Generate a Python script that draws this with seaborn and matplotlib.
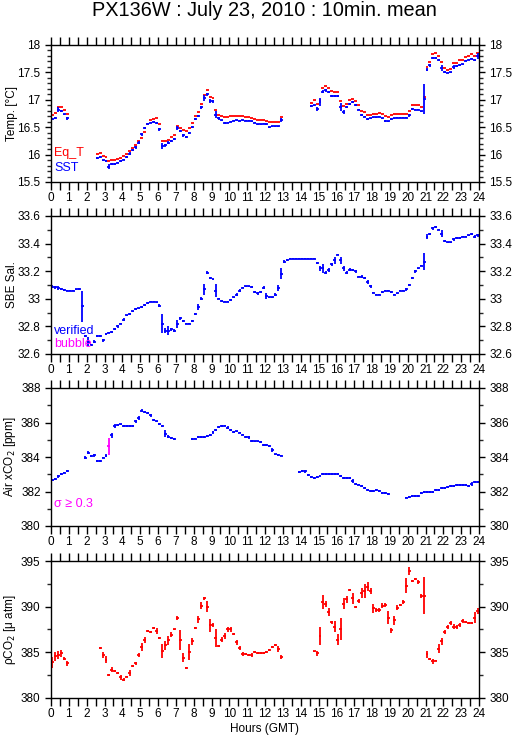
import numpy as np
import matplotlib
matplotlib.use('Agg')
import matplotlib.pyplot as plt
from matplotlib.ticker import MultipleLocator
import seaborn as sns

nan = np.nan

# 10-minute bins over one day (bin centres, hours GMT)
hours = (np.arange(144) + 0.5) / 6

# ---- panel 1 : temperatures (one row per hour, six 10-min bins) ----
sst = [
    16.65, 16.67, 16.82, 16.80, 16.74, 16.66,
    nan, nan, nan, nan, nan, nan,
    nan, nan, nan, 15.94, 15.95, 15.90,
    15.88, 15.78, 15.83, 15.83, 15.85, 15.88,
    15.91, 15.96, 16.02, 16.08, 16.13, 16.22,
    16.37, 16.48, 16.56, 16.58, 16.60, 16.57,
    16.46, 16.16, 16.17, 16.22, 16.25, 16.29,
    16.48, 16.43, 16.35, 16.32, 16.40, 16.50,
    16.65, 16.70, 16.86, 17.03, 17.10, 16.98,
    16.97, 16.73, 16.66, 16.63, 16.58, 16.58,
    16.60, 16.62, 16.63, 16.62, 16.63, 16.62,
    16.62, 16.61, 16.58, 16.55, 16.55, 16.56,
    16.56, 16.50, 16.52, 16.52, 16.52, 16.63,
    nan, nan, nan, nan, nan, nan,
    nan, nan, nan, 16.89, 16.90, 16.83,
    16.96, 17.15, 17.17, 17.14, 17.07, 17.07,
    17.07, 16.87, 16.78, 16.87, 16.92, 16.96,
    16.91, 16.82, 16.73, 16.69, 16.65, 16.66,
    16.68, 16.68, 16.69, 16.66, 16.62, 16.61,
    16.65, 16.66, 16.67, 16.67, 16.67, 16.67,
    16.72, 16.83, 16.82, 16.82, 16.79, 17.02,
    17.55, 17.63, 17.77, 17.77, 17.73, 17.58,
    17.50, 17.49, 17.50, 17.60, 17.61, 17.64,
    17.65, 17.71, 17.73, 17.75, 17.72, 17.80,
]
sst_sd = [
    0.02, 0.02, 0.04, 0.02, 0.01, 0.02,
    nan, nan, nan, nan, nan, nan,
    nan, nan, nan, 0.02, 0.02, 0.01,
    0.02, 0.04, 0.02, 0.02, 0.01, 0.02,
    0.01, 0.02, 0.02, 0.02, 0.02, 0.02,
    0.03, 0.02, 0.02, 0.01, 0.02, 0.02,
    0.03, 0.05, 0.03, 0.02, 0.02, 0.02,
    0.04, 0.02, 0.02, 0.02, 0.02, 0.02,
    0.02, 0.02, 0.02, 0.05, 0.03, 0.03,
    0.02, 0.07, 0.02, 0.01, 0.02, 0.01,
    0.01, 0.01, 0.01, 0.01, 0.01, 0.01,
    0.01, 0.01, 0.01, 0.01, 0.01, 0.01,
    0.02, 0.01, 0.01, 0.01, 0.01, 0.03,
    nan, nan, nan, nan, nan, nan,
    nan, nan, nan, 0.02, 0.01, 0.03,
    0.08, 0.02, 0.02, 0.02, 0.02, 0.02,
    0.02, 0.07, 0.03, 0.02, 0.02, 0.02,
    0.02, 0.01, 0.02, 0.01, 0.01, 0.01,
    0.01, 0.01, 0.01, 0.01, 0.02, 0.01,
    0.01, 0.01, 0.01, 0.01, 0.01, 0.01,
    0.03, 0.02, 0.01, 0.01, 0.01, 0.27,
    0.03, 0.03, 0.02, 0.02, 0.02, 0.06,
    0.02, 0.01, 0.01, 0.03, 0.02, 0.02,
    0.01, 0.01, 0.01, 0.01, 0.01, 0.05,
]
eq_t = [
    16.73, 16.76, 16.86, 16.86, 16.82, 16.74,
    nan, nan, nan, nan, nan, nan,
    nan, nan, nan, 16.01, 16.03, 15.97,
    15.96, 15.88, 15.90, 15.91, 15.92, 15.94,
    15.97, 16.02, 16.06, 16.12, 16.18, 16.24,
    16.31, 16.42, 16.55, 16.64, 16.65, 16.66,
    16.56, 16.24, 16.24, 16.27, 16.32, 16.35,
    16.53, 16.48, 16.44, 16.43, 16.48, 16.57,
    16.70, 16.77, 16.92, 17.08, 17.18, 17.06,
    17.04, 16.82, 16.72, 16.70, 16.68, 16.68,
    16.70, 16.70, 16.70, 16.70, 16.70, 16.69,
    16.68, 16.67, 16.65, 16.63, 16.64, 16.64,
    16.62, 16.60, 16.60, 16.60, 16.60, 16.69,
    nan, nan, nan, nan, nan, nan,
    nan, nan, nan, 16.95, 17.00, 16.93,
    17.00, 17.22, 17.25, 17.22, 17.16, 17.15,
    17.15, 16.98, 16.88, 16.93, 17.00, 17.02,
    16.97, 16.90, 16.80, 16.77, 16.73, 16.73,
    16.75, 16.75, 16.76, 16.74, 16.71, 16.68,
    16.72, 16.75, 16.75, 16.75, 16.75, 16.75,
    16.80, 16.90, 16.90, 16.90, 16.87, 17.05,
    17.60, 17.69, 17.84, 17.85, 17.80, 17.69,
    17.58, 17.55, 17.57, 17.67, 17.67, 17.73,
    17.73, 17.78, 17.80, 17.84, 17.80, 17.86,
]

# ---- panel 2 : SBE salinity ----
sal = [
    33.088, 33.083, 33.076, 33.070, 33.065, 33.060,
    33.058, 33.060, 33.068, 33.072, 32.945, 32.730,
    32.690, 32.665, 32.690, 32.730, 32.730, 32.700,
    32.745, 32.755, 32.760, 32.780, 32.800, 32.820,
    32.850, 32.880, 32.890, 32.910, 32.925, 32.930,
    32.940, 32.955, 32.970, 32.980, 32.980, 32.975,
    32.950, 32.820, 32.770, 32.770, 32.780, 32.770,
    32.820, 32.860, 32.840, 32.820, 32.820, 32.840,
    32.890, 32.940, 33.000, 33.070, 33.190, 33.150,
    33.140, 33.060, 33.000, 32.985, 32.980, 32.980,
    32.990, 33.010, 33.030, 33.060, 33.080, 33.090,
    33.090, 33.085, 33.050, 33.040, 33.050, 33.080,
    33.020, 33.010, 33.010, 33.030, 33.080, 33.180,
    33.270, 33.280, 33.290, 33.290, 33.290, 33.290,
    33.290, 33.290, 33.290, 33.290, 33.290, 33.260,
    33.220, 33.220, 33.190, 33.210, 33.250, 33.280,
    33.320, 33.280, 33.220, 33.190, 33.210, 33.210,
    33.200, 33.160, 33.160, 33.150, 33.120, 33.090,
    33.045, 33.030, 33.030, 33.050, 33.060, 33.060,
    33.050, 33.030, 33.040, 33.060, 33.060, 33.070,
    33.100, 33.150, 33.200, 33.220, 33.240, 33.270,
    33.450, 33.470, 33.510, 33.520, 33.500, 33.470,
    33.420, 33.410, 33.410, 33.430, 33.440, 33.440,
    33.450, 33.450, 33.460, 33.470, 33.450, 33.460,
]
sal_sd = [
    0.010, 0.010, 0.015, 0.005, 0.005, 0.005,
    0.005, 0.005, 0.005, 0.005, 0.110, 0.005,
    0.030, 0.005, 0.010, 0.005, 0.005, 0.010,
    0.010, 0.005, 0.005, 0.005, 0.010, 0.005,
    0.010, 0.005, 0.005, 0.005, 0.005, 0.005,
    0.005, 0.005, 0.005, 0.005, 0.005, 0.005,
    0.010, 0.070, 0.020, 0.030, 0.010, 0.010,
    0.030, 0.010, 0.010, 0.005, 0.005, 0.010,
    0.010, 0.020, 0.010, 0.040, 0.010, 0.010,
    0.005, 0.050, 0.005, 0.005, 0.005, 0.005,
    0.005, 0.005, 0.010, 0.010, 0.005, 0.005,
    0.005, 0.005, 0.005, 0.010, 0.005, 0.010,
    0.020, 0.005, 0.005, 0.010, 0.020, 0.040,
    0.010, 0.005, 0.005, 0.005, 0.005, 0.005,
    0.005, 0.005, 0.005, 0.005, 0.005, 0.010,
    0.020, 0.030, 0.010, 0.015, 0.010, 0.025,
    0.005, 0.025, 0.015, 0.010, 0.010, 0.005,
    0.010, 0.005, 0.010, 0.010, 0.015, 0.010,
    0.005, 0.005, 0.005, 0.005, 0.005, 0.005,
    0.005, 0.005, 0.005, 0.005, 0.005, 0.010,
    0.010, 0.010, 0.010, 0.005, 0.005, 0.060,
    0.020, 0.010, 0.010, 0.005, 0.005, 0.025,
    0.005, 0.005, 0.005, 0.010, 0.005, 0.005,
    0.005, 0.005, 0.005, 0.005, 0.010, 0.010,
]

# ---- panel 3 : air xCO2 ----
xco2 = [
    382.65, 382.72, 382.88, 383.00, 383.10, 383.20,
    nan, nan, nan, nan, nan, 383.97,
    384.24, 384.07, 384.10, 383.76, 383.76, 383.97,
    384.07, 384.63, 385.27, 385.79, 385.85, 385.89,
    385.81, 385.81, 385.81, 385.81, 386.06, 386.26,
    386.68, 386.59, 386.57, 386.41, 386.16, 386.06,
    385.90, 385.80, 385.36, 385.17, 385.11, 385.03,
    nan, nan, nan, nan, nan, 385.03,
    385.07, 385.15, 385.15, 385.15, 385.20, 385.28,
    385.44, 385.57, 385.73, 385.80, 385.82, 385.70,
    385.55, 385.45, 385.48, 385.42, 385.30, 385.18,
    385.15, 384.92, 384.90, 384.90, 384.88, 384.70,
    384.68, 384.65, 384.42, 384.15, 384.12, 384.08,
    nan, nan, nan, nan, nan, 383.15,
    383.17, 383.17, 382.95, 382.85, 382.80, 382.85,
    382.92, 383.00, 383.00, 383.00, 383.00, 383.00,
    383.00, 382.90, 382.80, 382.77, 382.77, 382.60,
    382.45, 382.40, 382.32, 382.22, 382.10, 382.02,
    382.03, 382.07, 382.03, 381.92, 381.90, 381.87,
    nan, nan, nan, nan, nan, 381.65,
    381.70, 381.75, 381.75, 381.75, 381.90, 381.97,
    381.98, 381.98, 381.98, 382.07, 382.10, 382.20,
    382.22, 382.28, 382.30, 382.33, 382.37, 382.37,
    382.37, 382.37, 382.30, 382.45, 382.55, 382.55,
]
xco2_sd = [
    0.05, 0.05, 0.08, 0.05, 0.05, 0.05,
    nan, nan, nan, nan, nan, 0.10,
    0.08, 0.05, 0.10, 0.05, 0.05, 0.05,
    0.08, 0.50, 0.15, 0.10, 0.08, 0.05,
    0.05, 0.05, 0.05, 0.05, 0.08, 0.12,
    0.08, 0.05, 0.05, 0.08, 0.05, 0.05,
    0.05, 0.05, 0.20, 0.08, 0.05, 0.05,
    nan, nan, nan, nan, nan, 0.05,
    0.05, 0.05, 0.05, 0.05, 0.05, 0.05,
    0.08, 0.08, 0.05, 0.05, 0.05, 0.08,
    0.05, 0.05, 0.05, 0.05, 0.05, 0.05,
    0.08, 0.05, 0.05, 0.05, 0.05, 0.05,
    0.05, 0.05, 0.12, 0.05, 0.05, 0.05,
    nan, nan, nan, nan, nan, 0.05,
    0.05, 0.10, 0.05, 0.05, 0.05, 0.05,
    0.05, 0.05, 0.05, 0.05, 0.05, 0.05,
    0.05, 0.05, 0.05, 0.05, 0.05, 0.10,
    0.05, 0.05, 0.05, 0.05, 0.05, 0.05,
    0.05, 0.05, 0.05, 0.05, 0.05, 0.05,
    nan, nan, nan, nan, nan, 0.05,
    0.05, 0.05, 0.05, 0.05, 0.05, 0.05,
    0.05, 0.05, 0.05, 0.05, 0.05, 0.05,
    0.05, 0.05, 0.05, 0.05, 0.05, 0.05,
    0.05, 0.05, 0.05, 0.12, 0.05, 0.05,
]

# ---- panel 4 : seawater pCO2 ----
pco2 = [
    383.90, 384.55, 384.70, 384.90, 384.30, 383.80,
    nan, nan, nan, nan, nan, nan,
    nan, nan, nan, nan, 385.45, 384.70,
    384.20, 382.55, 383.10, 383.00, 382.70, 382.25,
    382.00, 382.35, 382.75, 383.50, 383.80, 384.70,
    385.60, 386.35, 387.35, 387.25, 387.70, 387.35,
    386.60, 385.15, 385.75, 386.30, 386.95, 387.50,
    388.75, 386.35, 384.40, 383.30, 385.05, 386.20,
    387.70, 388.60, 390.10, 390.90, 390.00, 387.95,
    388.00, 386.60, 385.65, 386.40, 386.80, 387.50,
    387.50, 387.00, 386.10, 385.45, 384.80, 384.85,
    384.75, 384.70, 385.00, 384.95, 384.90, 384.90,
    385.00, 385.30, 385.55, 385.80, 385.35, 384.50,
    nan, nan, nan, nan, nan, nan,
    nan, nan, nan, nan, 385.10, 384.90,
    386.80, 390.50, 390.30, 389.40, 388.30, 387.80,
    386.40, 387.60, 390.30, 390.80, 391.80, 390.90,
    390.00, 390.60, 391.50, 391.70, 392.20, 391.70,
    389.80, 389.60, 389.60, 390.10, 390.20, 388.80,
    387.40, 388.50, 389.90, 390.20, 390.50, 392.30,
    393.90, 392.80, 393.00, 392.70, 391.20, 391.20,
    384.80, 384.30, 384.00, 384.10, 385.40, 386.20,
    387.20, 387.80, 388.20, 387.80, 387.80, 388.00,
    388.40, 388.30, 388.20, 388.20, 388.80, 389.50,
]
pco2_sd = [
    0.60, 0.50, 0.40, 0.40, 0.15, 0.30,
    nan, nan, nan, nan, nan, nan,
    nan, nan, nan, nan, 0.10, 0.30,
    0.40, 0.10, 0.30, 0.10, 0.10, 0.25,
    0.15, 0.10, 0.30, 0.15, 0.15, 0.20,
    0.40, 0.30, 0.10, 0.10, 0.10, 0.30,
    0.10, 0.80, 0.50, 0.50, 0.30, 0.10,
    0.25, 1.10, 0.50, 0.10, 0.90, 0.40,
    0.10, 0.40, 0.40, 0.20, 0.60, 0.70,
    0.20, 1.00, 0.10, 0.30, 0.30, 0.30,
    0.30, 0.10, 0.30, 0.20, 0.20, 0.10,
    0.10, 0.20, 0.10, 0.10, 0.10, 0.10,
    0.10, 0.10, 0.10, 0.10, 0.30, 0.20,
    nan, nan, nan, nan, nan, nan,
    nan, nan, nan, nan, 0.10, 0.30,
    1.00, 0.80, 0.30, 0.40, 0.15, 0.60,
    0.60, 1.20, 0.60, 0.40, 0.10, 0.60,
    0.10, 0.20, 0.50, 0.80, 0.50, 0.30,
    0.50, 0.20, 0.20, 0.30, 0.20, 0.70,
    0.30, 0.50, 0.30, 0.10, 0.20, 0.80,
    0.40, 0.10, 0.10, 0.20, 0.20, 2.00,
    0.40, 0.10, 0.30, 0.10, 0.50, 0.40,
    0.20, 0.20, 0.20, 0.30, 0.20, 0.20,
    0.20, 0.10, 0.10, 0.10, 0.60, 0.30,
]

RED = '#ff0000'
BLUE = '#0000ff'
MAGENTA = '#ff00ff'
LW = 1.3

sns.set_theme(style='ticks')
plt.rcParams['font.family'] = ['Liberation Sans', 'DejaVu Sans']
plt.rcParams['font.size'] = 8.5
plt.rcParams['axes.linewidth'] = 1.0
plt.rcParams['axes.edgecolor'] = 'black'


def marks(ax, y, sd, color, vertical=True):
    y = np.asarray(y, dtype=float)
    ax.errorbar(hours, y, xerr=1 / 12, yerr=np.asarray(sd, dtype=float) if vertical else None,
                fmt='none', ecolor=color, elinewidth=LW, capsize=0)


def style(ax, ylim, major, minor, label):
    ax.set_xlim(0, 24)
    ax.set_ylim(*ylim)
    ax.xaxis.set_major_locator(MultipleLocator(1))
    ax.xaxis.set_minor_locator(MultipleLocator(0.5))
    ax.yaxis.set_major_locator(MultipleLocator(major))
    ax.yaxis.set_minor_locator(MultipleLocator(minor))
    ax.tick_params(axis='x', which='both', direction='out', top=True, bottom=True,
                   length=5.5, width=1.0, labelsize=8.5, pad=2, colors='black')
    ax.tick_params(axis='y', which='major', direction='out', left=True, right=True,
                   labelleft=True, labelright=True, length=4.5, width=1.0,
                   labelsize=8.5, pad=3, colors='black')
    ax.tick_params(axis='y', which='minor', direction='out', left=True, right=True,
                   length=3, width=1.0)
    ax.set_ylabel(label, fontsize=8.5, color='black')
    ax.yaxis.set_label_coords(-0.077, 0.5)
    ax.set_facecolor('white')
    for s in ax.spines.values():
        s.set_color('black')


fig = plt.figure(figsize=(5.15, 7.39), dpi=100)
W, H = 515, 739
left, width = 51 / W, 428 / W
boxes = [(45, 182), (216, 354), (388, 526), (561, 698)]
axes = [fig.add_axes([left, 1 - b / H, width, (b - t) / H]) for t, b in boxes]

ax1, ax2, ax3, ax4 = axes

# temperatures
marks(ax1, eq_t, None, RED, vertical=False)
marks(ax1, sst, sst_sd, BLUE)
style(ax1, (15.5, 18), 0.5, 0.1, 'Temp. [°C]')
ax1.yaxis.set_major_formatter(plt.FuncFormatter(lambda v, p: f'{v:g}'))
ax1.text(0.008, 0.21, 'Eq_T', color=RED, transform=ax1.transAxes, fontsize=9, va='center')
ax1.text(0.008, 0.10, 'SST', color=BLUE, transform=ax1.transAxes, fontsize=9, va='center')

# salinity
marks(ax2, sal, sal_sd, BLUE)
style(ax2, (32.6, 33.6), 0.2, 0.1, 'SBE Sal.')
ax2.yaxis.set_major_formatter(plt.FuncFormatter(lambda v, p: f'{v:g}'))
ax2.text(0.008, 0.17, 'verified', color=BLUE, transform=ax2.transAxes, fontsize=9, va='center')
ax2.text(0.008, 0.07, 'bubble', color=MAGENTA, transform=ax2.transAxes, fontsize=9, va='center')

# air xCO2, bins with sigma >= 0.3 in magenta
xc = np.asarray(xco2, dtype=float)
xs = np.asarray(xco2_sd, dtype=float)
flag = xs >= 0.3
marks(ax3, np.where(flag, nan, xc), xs, BLUE)
marks(ax3, np.where(flag, xc, nan), xs, MAGENTA)
style(ax3, (380, 388), 2, 1, 'Air xCO$_2$ [ppm]')
ax3.text(0.008, 0.16, 'σ ≥ 0.3', color=MAGENTA, transform=ax3.transAxes, fontsize=9, va='center')

# seawater pCO2
marks(ax4, pco2, pco2_sd, RED)
style(ax4, (380, 395), 5, 2.5, 'ρCO$_2$ [μ atm]')
ax4.set_xlabel('Hours (GMT)', fontsize=8.5, color='black', labelpad=2)

fig.text(0.513, 1 - 11 / H, 'PX136W : July 23, 2010 : 10min. mean',
         ha='center', va='center', fontsize=14.3, color='black')

fig.savefig('out.png', dpi=100, facecolor='white')
